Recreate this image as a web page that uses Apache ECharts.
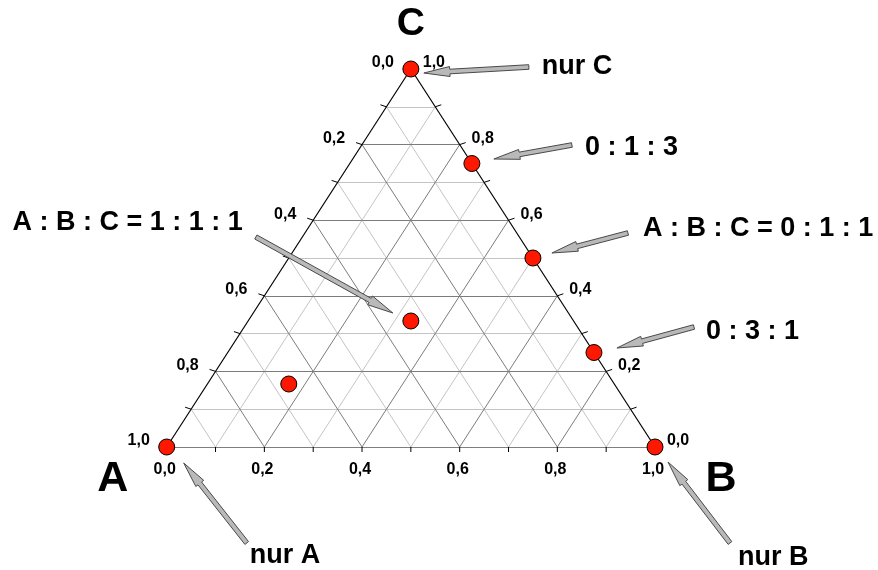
<!DOCTYPE html>
<html><head><meta charset="utf-8">
<script src="https://cdn.jsdelivr.net/npm/echarts@6/dist/echarts.min.js"></script>
<style>html,body{margin:0;padding:0;background:#fff}#c{width:878px;height:570px}</style>
</head><body><div id="c"></div>
<script>
// ---------- data ----------
const vertexNames = ['A', 'B', 'C'];
// marked compositions, parts of A : B : C
const partsA = [1, 0, 0, 0, 0, 0, 1, 4];
const partsB = [0, 1, 0, 1, 1, 3, 1, 1];
const partsC = [0, 0, 1, 3, 1, 1, 1, 1];
const tickValues = [0, 0.2, 0.4, 0.6, 0.8, 1.0];
const tickLabels = ['0,0', '0,2', '0,4', '0,6', '0,8', '1,0'];
const minorSteps = [0.1, 0.3, 0.5, 0.7, 0.9];
const majorSteps = [0.2, 0.4, 0.6, 0.8];
const noteTexts = ['nur A', 'nur B', 'nur C', '0 : 1 : 3', 'A : B : C = 0 : 1 : 1', '0 : 3 : 1', 'A : B : C = 1 : 1 : 1'];
const notePoints = [0, 1, 2, 3, 4, 5, 6];

// ---------- layout (pixel offsets / styles) ----------
const FONT = '"Liberation Sans", Arial, sans-serif';
const noteTip  = [[17,16],[13,15],[13,4],[22,-4.5],[19,-5],[23,-4.5],[-18,-8]];
const noteTail = [[80,96],[75,96],[118,-2],[100,-18.5],[95,-25],[100,-25.5],[-155,-84]];
const noteTextPos = [[83,109],[83,111],[131,-2],[113,-16],[110,-29],[112,-21],[-168,-98]];
const noteAlign = ['left','left','left','left','left','left','right'];
const vertexLabelPos = [[-54,32],[66,32],[0,-45]];
const vertexLabelSize = [43, 43, 39];
const tickDir = [[0,5],[-6,-2],[6,-2]];
const tickLabelPos = [[-2,23],[-28,-6],[23,-6]];

// ternary -> cartesian (x = B + C/2, y = C)
function toXY(a, b, c) { const s = a + b + c; return [(b + c / 2) / s, c / s]; }
// composition of a point on axis k at fraction v
function axisPoint(k, v) {
  if (k === 0) return toXY(1 - v, v, 0);      // bottom: B
  if (k === 1) return toXY(v, 0, 1 - v);      // left: A
  return toXY(0, 1 - v, v);                   // right: C
}
function seg(p, q) { return { coords: [p, q] }; }
function gridSegs(steps) {
  const out = [];
  steps.forEach(v => {
    out.push(seg(toXY(1 - v, 0, v), toXY(0, 1 - v, v)));
    out.push(seg(toXY(v, 1 - v, 0), toXY(v, 0, 1 - v)));
    out.push(seg(toXY(1 - v, v, 0), toXY(0, v, 1 - v)));
  });
  return out;
}
const vA = toXY(1,0,0), vB = toXY(0,1,0), vC = toXY(0,0,1);
const edges = [seg(vA, vB), seg(vB, vC), seg(vC, vA)];

const tickSteps = minorSteps.concat(majorSteps);
const tickData = [];
[0,1,2].forEach(k => tickSteps.forEach(v => { const p = axisPoint(k, v); tickData.push([p[0], p[1], k]); }));
const tickLabelData = [], tickLabelText = [];
[0,1,2].forEach(k => tickValues.forEach((v, i) => { const p = axisPoint(k, v); tickLabelData.push([p[0], p[1], k]); tickLabelText.push(tickLabels[i]); }));

const pointData = partsA.map((a, i) => toXY(a, partsB[i], partsC[i]));
const noteData = notePoints.map((pi, i) => [pointData[pi][0], pointData[pi][1], i]);
const vertexData = [vA, vB, vC].map((p, i) => [p[0], p[1], i]);

function arrowPoints(tail, tip) {
  const dx = tip[0] - tail[0], dy = tip[1] - tail[1];
  const len = Math.sqrt(dx * dx + dy * dy);
  const ux = dx / len, uy = dy / len, nx = -uy, ny = ux;
  const sw = 2.3, hw = 5, hl = 26;
  const neck = [tip[0] - ux * hl, tip[1] - uy * hl];
  return [
    [tail[0] + nx * sw, tail[1] + ny * sw],
    [neck[0] + nx * sw, neck[1] + ny * sw],
    [neck[0] + nx * hw, neck[1] + ny * hw],
    tip,
    [neck[0] - nx * hw, neck[1] - ny * hw],
    [neck[0] - nx * sw, neck[1] - ny * sw],
    [tail[0] - nx * sw, tail[1] - ny * sw]
  ];
}

const chart = echarts.init(document.getElementById('c'));
chart.setOption({
  animation: false,
  backgroundColor: '#fff',
  grid: { left: 166.7, top: 69, width: 488.3, height: 378, containLabel: false },
  xAxis: { type: 'value', min: 0, max: 1, show: false },
  yAxis: { type: 'value', min: 0, max: 1, show: false },
  series: [
    { type: 'lines', coordinateSystem: 'cartesian2d', silent: true, z: 1,
      lineStyle: { color: '#c4c4c4', width: 1, opacity: 1 }, data: gridSegs(minorSteps) },
    { type: 'lines', coordinateSystem: 'cartesian2d', silent: true, z: 2,
      lineStyle: { color: '#7c7c7c', width: 1, opacity: 1 }, data: gridSegs(majorSteps) },
    { type: 'lines', coordinateSystem: 'cartesian2d', silent: true, z: 3,
      lineStyle: { color: '#000', width: 1.2, opacity: 1 }, data: edges },
    { type: 'custom', coordinateSystem: 'cartesian2d', silent: true, z: 3, clip: false,
      encode: { x: 0, y: 1 }, data: tickData,
      renderItem(params, api) {
        const p = api.coord([api.value(0), api.value(1)]);
        const d = tickDir[api.value(2)];
        return { type: 'line', shape: { x1: p[0], y1: p[1], x2: p[0] + d[0], y2: p[1] + d[1] },
                 style: { stroke: '#000', lineWidth: 1 } };
      } },
    { type: 'custom', coordinateSystem: 'cartesian2d', silent: true, z: 4, clip: false,
      encode: { x: 0, y: 1 }, data: tickLabelData,
      renderItem(params, api) {
        const p = api.coord([api.value(0), api.value(1)]);
        const o = tickLabelPos[api.value(2)];
        return { type: 'text', style: { text: tickLabelText[params.dataIndex], x: p[0] + o[0], y: p[1] + o[1],
                 align: 'center', verticalAlign: 'middle', fill: '#000', font: 'bold 16px ' + FONT } };
      } },
    { type: 'scatter', silent: true, z: 5, symbol: 'circle', symbolSize: 16,
      itemStyle: { color: '#ff1800', borderColor: '#000', borderWidth: 1, opacity: 1 },
      data: pointData },
    { type: 'custom', coordinateSystem: 'cartesian2d', silent: true, z: 6, clip: false,
      encode: { x: 0, y: 1 }, data: noteData,
      renderItem(params, api) {
        const p = api.coord([api.value(0), api.value(1)]);
        const i = api.value(2);
        const tip = [p[0] + noteTip[i][0], p[1] + noteTip[i][1]];
        const tail = [p[0] + noteTail[i][0], p[1] + noteTail[i][1]];
        return { type: 'group', children: [
          { type: 'polygon', shape: { points: arrowPoints(tail, tip) },
            style: { fill: '#b9b9b9', stroke: '#4a4a4a', lineWidth: 1 } },
          { type: 'text', style: { text: noteTexts[i], x: p[0] + noteTextPos[i][0], y: p[1] + noteTextPos[i][1],
            align: noteAlign[i], verticalAlign: 'middle', fill: '#000', font: 'bold 27px ' + FONT } }
        ] };
      } },
    { type: 'custom', coordinateSystem: 'cartesian2d', silent: true, z: 6, clip: false,
      encode: { x: 0, y: 1 }, data: vertexData,
      renderItem(params, api) {
        const p = api.coord([api.value(0), api.value(1)]);
        const i = api.value(2);
        return { type: 'text', style: { text: vertexNames[i], x: p[0] + vertexLabelPos[i][0], y: p[1] + vertexLabelPos[i][1],
                 align: 'center', verticalAlign: 'middle', fill: '#000', font: 'bold ' + vertexLabelSize[i] + 'px ' + FONT } };
      } }
  ]
});
</script>
</body></html>
